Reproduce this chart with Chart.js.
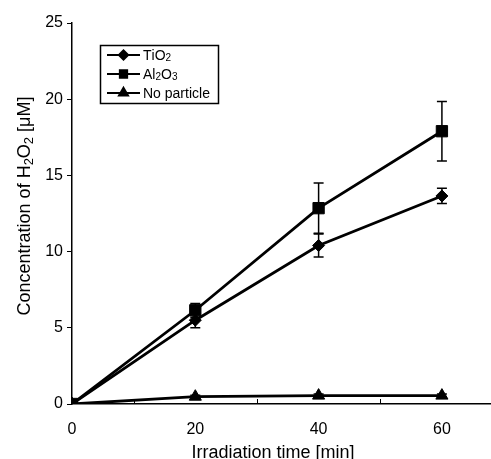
<!DOCTYPE html>
<html lang="en">
<head>
    <meta charset="UTF-8">
    <title>H2O2 concentration vs irradiation time</title>
    <script src="https://cdn.jsdelivr.net/npm/chart.js"></script>
    <style>
        html, body { margin: 0; background: #fff; overflow: hidden; }
        canvas { display: block; }
    </style>
</head>
<body>
    <!-- a few px wider than the window so the x axis runs to the right edge -->
    <canvas id="h2o2Chart" width="499" height="459"></canvas>

    <script>
        // values
        const times = [0, 20, 40, 60];
        const tio2 = [0, 5.5, 10.4, 13.65];
        const tio2Err = [0, 0.5, 0.75, 0.5];
        const al2o3 = [0, 6.15, 12.85, 17.9];
        const al2o3Err = [0, 0.45, 1.65, 1.95];
        const noParticle = [0, 0.48, 0.55, 0.55];
        const noParticleErr = [0, 0.1, 0.1, 0.1];
        const seriesLabels = ['TiO2', 'Al2O3', 'No particle'];
        const xTicks = [0, 20, 40, 60];
        const yTicks = [0, 5, 10, 15, 20, 25];

        const FONT = 'Arial, "Liberation Sans", sans-serif';

        // draws text where digits after a letter become subscripts (H2O2, TiO2 ...)
        function chemText(ctx, text, x, y, size) {
            let cx = x;
            for (let i = 0; i < text.length; i++) {
                const ch = text[i];
                const sub = /[0-9]/.test(ch) && i > 0 && /[A-Za-z]/.test(text[i - 1]);
                ctx.font = (sub ? Math.round(size * 0.7) : size) + 'px ' + FONT;
                ctx.fillText(ch, cx, sub ? y + size * 0.18 : y);
                cx += ctx.measureText(ch).width;
            }
            return cx - x;
        }
        function chemWidth(ctx, text, size) {
            let w = 0;
            for (let i = 0; i < text.length; i++) {
                const ch = text[i];
                const sub = /[0-9]/.test(ch) && i > 0 && /[A-Za-z]/.test(text[i - 1]);
                ctx.font = (sub ? Math.round(size * 0.7) : size) + 'px ' + FONT;
                w += ctx.measureText(ch).width;
            }
            return w;
        }

        function makeSet(label, data, style, radius) {
            return {
                label: label,
                data: times.map((t, i) => ({ x: t, y: data[i] })),
                borderColor: '#000',
                backgroundColor: '#000',
                borderWidth: 2.8,
                pointStyle: style,
                pointRadius: radius,
                pointBorderWidth: 1,
                tension: 0
            };
        }

        const errors = [tio2Err, al2o3Err, noParticleErr];

        const errorBars = {
            id: 'errorBars',
            beforeDatasetsDraw(chart) {
                const ctx = chart.ctx;
                const xs = chart.scales.x, ys = chart.scales.y;
                ctx.save();
                ctx.strokeStyle = '#000';
                ctx.lineWidth = 1.5;
                chart.data.datasets.forEach((ds, d) => {
                    ds.data.forEach((p, i) => {
                        const e = errors[d][i];
                        if (!e) return;
                        const px = xs.getPixelForValue(p.x);
                        const top = ys.getPixelForValue(p.y + e);
                        const bot = ys.getPixelForValue(p.y - e);
                        ctx.beginPath();
                        ctx.moveTo(px, top); ctx.lineTo(px, bot);
                        ctx.moveTo(px - 5, top); ctx.lineTo(px + 5, top);
                        ctx.moveTo(px - 5, bot); ctx.lineTo(px + 5, bot);
                        ctx.stroke();
                    });
                });
                ctx.restore();
            }
        };

        const axisDecor = {
            id: 'axisDecor',
            afterDraw(chart) {
                const ctx = chart.ctx;
                const xs = chart.scales.x, ys = chart.scales.y;
                const area = chart.chartArea;
                ctx.save();
                ctx.strokeStyle = '#000';
                ctx.lineWidth = 1;
                // inward tick marks on x axis, every 10 min
                for (let v = 10; v < xs.max; v += 20) {
                    const px = Math.round(xs.getPixelForValue(v)) + 0.5;
                    ctx.beginPath();
                    ctx.moveTo(px, area.bottom);
                    ctx.lineTo(px, area.bottom - 5);
                    ctx.stroke();
                }

                // axis titles
                ctx.fillStyle = '#000';
                ctx.textBaseline = 'alphabetic';
                const xt = 'Irradiation time [min]';
                ctx.font = '18px ' + FONT;
                const xw = ctx.measureText(xt).width;
                ctx.fillText(xt, 273 - xw / 2, 458);

                const yt = 'Concentration of H2O2 [\u03bcM]';
                const yw = chemWidth(ctx, yt, 18);
                ctx.translate(30, 206);
                ctx.rotate(-Math.PI / 2);
                chemText(ctx, yt, -yw / 2, 0, 18);
                ctx.restore();

                // legend box
                ctx.save();
                ctx.strokeStyle = '#000';
                ctx.lineWidth = 1.5;
                ctx.strokeRect(100.5, 45.5, 118, 58);
                const rowY = [55, 74, 93];
                const styles = [
                    { s: 'rectRot', r: 4.5 },
                    { s: 'rect', r: 5 },
                    { s: 'triangle', r: 5 }
                ];
                chart.data.datasets.forEach((ds, i) => {
                    const y = rowY[i];
                    ctx.lineWidth = 2.2;
                    ctx.beginPath();
                    ctx.moveTo(107, y); ctx.lineTo(140, y);
                    ctx.stroke();
                    ctx.fillStyle = '#000';
                    Chart.helpers.drawPoint(ctx, {
                        pointStyle: styles[i].s, radius: styles[i].r, rotation: 0, borderWidth: 1
                    }, 123.5, y);
                    ctx.fill();
                    ctx.textBaseline = 'middle';
                    chemText(ctx, ds.label, 143, y + 1, 14);
                });
                ctx.restore();
            }
        };

        new Chart(document.getElementById('h2o2Chart'), {
            type: 'line',
            data: {
                datasets: [
                    makeSet(seriesLabels[0], tio2, 'rectRot', 6),
                    makeSet(seriesLabels[1], al2o3, 'rect', 8),
                    makeSet(seriesLabels[2], noParticle, 'triangle', 7)
                ]
            },
            options: {
                responsive: false,
                animation: false,
                layout: { padding: { top: 23, right: 0, left: 0, bottom: 0 } },
                plugins: {
                    legend: { display: false },
                    tooltip: { enabled: false }
                },
                scales: {
                    x: {
                        type: 'linear',
                        min: 0,
                        max: 67.8,
                        afterBuildTicks(scale) {
                            scale.ticks = xTicks.map(v => ({ value: v }));
                        },
                        afterFit(scale) {
                            scale.height = 55;
                        },
                        grid: { display: false },
                        border: { display: true, color: '#000', width: 1.5 },
                        ticks: {
                            color: '#000',
                            font: { family: FONT, size: 16 },
                            padding: 8,
                            maxRotation: 0
                        }
                    },
                    y: {
                        min: 0,
                        max: 25,
                        afterBuildTicks(scale) {
                            scale.ticks = yTicks.map(v => ({ value: v }));
                        },
                        afterFit(scale) { scale.width = 72; },
                        grid: {
                            drawOnChartArea: false,
                            drawTicks: true,
                            tickLength: 5,
                            color: '#000',
                            lineWidth: 1
                        },
                        border: { display: true, color: '#000', width: 1.5 },
                        ticks: {
                            color: '#000',
                            font: { family: FONT, size: 16 },
                            padding: 4
                        }
                    }
                }
            },
            plugins: [errorBars, axisDecor]
        });
    </script>
</body>
</html>
